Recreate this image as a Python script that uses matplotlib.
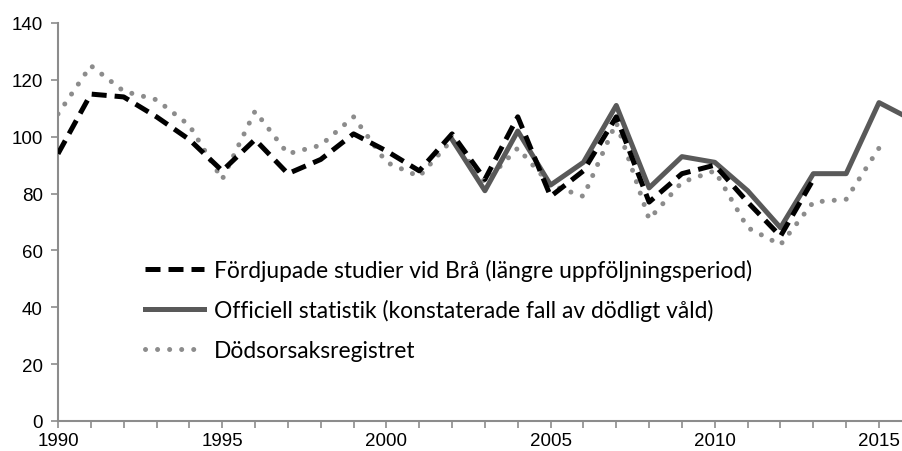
import matplotlib.pyplot as plt
import numpy as np

# Data
years_bra = list(range(1990, 2014))
bra = [94, 115, 114, 107, 99, 88, 99, 87, 92, 101, 95, 88, 101, 85,
       107, 79, 88, 107, 77, 87, 90, 77, 65, 85]

years_off = list(range(2002, 2017))
officiell = [99, 81, 102, 83, 91, 111, 82, 93, 91, 81, 68, 87, 87, 112, 106]

years_dod = list(range(1990, 2016))
dodsorsak = [108, 125, 116, 113, 104, 85, 109, 94, 97, 107, 91, 86, 99, 84,
             96, 83, 79, 105, 71, 84, 88, 68, 62, 77, 78, 96]

labels = [
    "Fördjupade studier vid Brå (längre uppföljningsperiod)",
    "Officiell statistik (konstaterade fall av dödligt våld)",
    "Dödsorsaksregistret",
]

plt.rcParams["font.family"] = ["Liberation Sans", "DejaVu Sans"]

fig = plt.figure(figsize=(9.02, 4.52), dpi=100)
ax = fig.add_axes([58 / 902, 30 / 452, 844 / 902, 398 / 452])

ax.plot(years_bra, bra, color="black", lw=3.6, ls=(0, (3, 1.6)),
        label=labels[0], zorder=3)
ax.plot(years_off, officiell, color="#595959", lw=3.6,
        label=labels[1], zorder=2)
ax.plot(years_dod, dodsorsak, color="#8c8c8c", lw=3.6, ls=(0, (0.01, 2.4)),
        dash_capstyle="round", label=labels[2], zorder=1)

ax.set_xlim(1990, 1990 + 844 / 32.84)
ax.set_ylim(0, 140)
ax.set_yticks(np.arange(0, 141, 20))
ax.set_xticks(np.arange(1990, 2016, 5))
ax.set_xticks(np.arange(1990, 2016, 1), minor=True)

for s in ["top", "right"]:
    ax.spines[s].set_visible(False)
for s in ["left", "bottom"]:
    ax.spines[s].set_color("#8c8c8c")
    ax.spines[s].set_linewidth(1.5)

ax.tick_params(axis="y", which="both", direction="out", length=5, width=1.2,
               color="#8c8c8c", labelsize=13.5, pad=6)
ax.tick_params(axis="x", which="both", direction="out", length=5, width=1.2,
               color="#8c8c8c", labelsize=13.5, pad=3)

leg = ax.legend(loc="upper left", bbox_to_anchor=(0.092, 0.43), frameon=False,
                prop={"family": "Lato", "size": 16.4}, handlelength=2.6,
                handletextpad=0.45, labelspacing=0.8, borderaxespad=0)

fig.savefig("out.png", dpi=100)
